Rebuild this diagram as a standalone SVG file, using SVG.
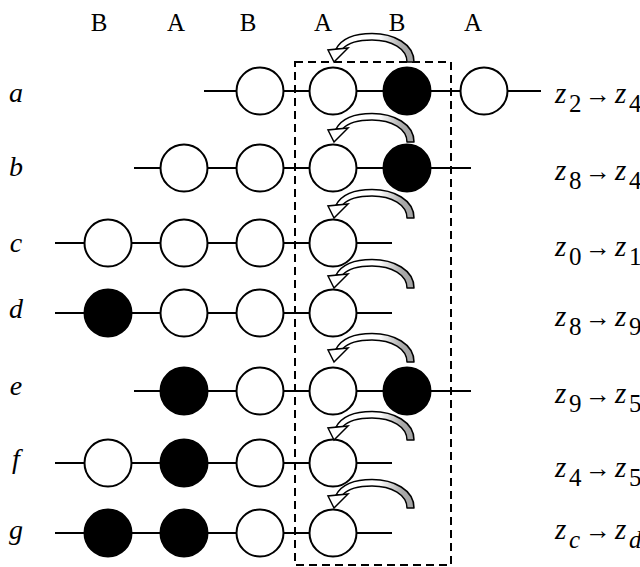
<svg xmlns="http://www.w3.org/2000/svg" width="640" height="567" viewBox="0 0 640 567">
  <defs>
    <style>
      text { font-family: "Liberation Serif", "Times New Roman", "DejaVu Serif", serif; fill: #000; }
      .hdr { font-size: 25px; text-anchor: middle; }
      .row { font-size: 28px; font-style: italic; text-anchor: middle; }
      .z { font-size: 29px; font-style: italic; }
      .sub { font-size: 25px; font-style: normal; }
      .subi { font-size: 25px; font-style: italic; }
      .arr { font-size: 26px; font-style: normal; }
      .chain { stroke: #000; stroke-width: 2; fill: none; }
      .w { fill: #fff; stroke: #000; stroke-width: 2; }
      .k { fill: #000; stroke: #000; stroke-width: 2; }
      .box { fill: none; stroke: #000; stroke-width: 2; stroke-dasharray: 8 5; }
      .band { fill: url(#bandFill); stroke: #000; stroke-width: 1.5; stroke-linejoin: round; }
      .head { fill: #fff; stroke: #000; stroke-width: 1.5; stroke-linejoin: miter; }
    </style>
    <linearGradient id="bandFill" x1="0" y1="0" x2="1" y2="0">
      <stop offset="0" stop-color="#fff"/>
      <stop offset="0.55" stop-color="#fff"/>
      <stop offset="0.85" stop-color="#aaa"/>
      <stop offset="1" stop-color="#a0a0a0"/>
    </linearGradient>
    <!-- curved hop arrow, tip at the origin -->
    <g id="hop">
      <path class="band" d="M 2,-13 C 8,-24 22,-28.5 38,-28.5 C 60,-28.5 80,-18 80,0 L 73,0 C 73,-13 58,-22 38,-22 C 25,-22 14,-19 9,-13.5 Z"/>
      <path class="head" d="M 0,0 L -6,-12 L 14,-14 Z"/>
    </g>
  </defs>

  <!-- column headers -->
  <g id="headers">
    <text class="hdr" x="99" y="31">B</text>
    <text class="hdr" x="176" y="31">A</text>
    <text class="hdr" x="248" y="31">B</text>
    <text class="hdr" x="323" y="31">A</text>
    <text class="hdr" x="397" y="31">B</text>
    <text class="hdr" x="473" y="31">A</text>
  </g>

  <!-- row labels -->
  <g id="row-labels">
    <text class="row" x="16" y="102">a</text>
    <text class="row" x="16" y="176">b</text>
    <text class="row" x="16" y="252">c</text>
    <text class="row" x="16" y="318">d</text>
    <text class="row" x="16" y="395">e</text>
    <text class="row" x="16" y="468">f</text>
    <text class="row" x="16" y="539">g</text>
  </g>

  <!-- chain backbones -->
  <g id="connectors">
    <line class="chain" x1="204" y1="91" x2="541" y2="91"/>
    <line class="chain" x1="134" y1="168" x2="471" y2="168"/>
    <line class="chain" x1="55" y1="243" x2="392" y2="243"/>
    <line class="chain" x1="55" y1="313" x2="392" y2="313"/>
    <line class="chain" x1="134" y1="391" x2="471" y2="391"/>
    <line class="chain" x1="55" y1="463" x2="392" y2="463"/>
    <line class="chain" x1="55" y1="533" x2="392" y2="533"/>
  </g>

  <!-- sites -->
  <g id="row-a">
    <circle id="a3" class="w" cx="260" cy="91" r="23.5"/>
    <circle id="a4" class="w" cx="333" cy="91" r="23.5"/>
    <circle id="a5" class="k" cx="407" cy="91" r="23.5"/>
    <circle id="a6" class="w" cx="484" cy="91" r="23.5"/>
  </g>
  <g id="row-b">
    <circle id="b2" class="w" cx="184" cy="168" r="23.5"/>
    <circle id="b3" class="w" cx="260" cy="168" r="23.5"/>
    <circle id="b4" class="w" cx="333" cy="168" r="23.5"/>
    <circle id="b5" class="k" cx="407" cy="168" r="23.5"/>
  </g>
  <g id="row-c">
    <circle id="c1" class="w" cx="108" cy="243" r="23.5"/>
    <circle id="c2" class="w" cx="184" cy="243" r="23.5"/>
    <circle id="c3" class="w" cx="260" cy="243" r="23.5"/>
    <circle id="c4" class="w" cx="333" cy="243" r="23.5"/>
  </g>
  <g id="row-d">
    <circle id="d1" class="k" cx="108" cy="313" r="23.5"/>
    <circle id="d2" class="w" cx="184" cy="313" r="23.5"/>
    <circle id="d3" class="w" cx="260" cy="313" r="23.5"/>
    <circle id="d4" class="w" cx="333" cy="313" r="23.5"/>
  </g>
  <g id="row-e">
    <circle id="e2" class="k" cx="184" cy="391" r="23.5"/>
    <circle id="e3" class="w" cx="260" cy="391" r="23.5"/>
    <circle id="e4" class="w" cx="333" cy="391" r="23.5"/>
    <circle id="e5" class="k" cx="407" cy="391" r="23.5"/>
  </g>
  <g id="row-f">
    <circle id="f1" class="w" cx="108" cy="463" r="23.5"/>
    <circle id="f2" class="k" cx="184" cy="463" r="23.5"/>
    <circle id="f3" class="w" cx="260" cy="463" r="23.5"/>
    <circle id="f4" class="w" cx="333" cy="463" r="23.5"/>
  </g>
  <g id="row-g">
    <circle id="g1" class="k" cx="108" cy="533" r="23.5"/>
    <circle id="g2" class="k" cx="184" cy="533" r="23.5"/>
    <circle id="g3" class="w" cx="260" cy="533" r="23.5"/>
    <circle id="g4" class="w" cx="333" cy="533" r="23.5"/>
  </g>

  <!-- active window -->
  <rect id="window" class="box" x="295" y="62" width="156" height="503"/>

  <!-- hop arrows -->
  <g id="hops">
    <use href="#hop" transform="translate(334,62)"/>
    <use href="#hop" transform="translate(334,142)"/>
    <use href="#hop" transform="translate(334,218)"/>
    <use href="#hop" transform="translate(334,288)"/>
    <use href="#hop" transform="translate(334,362)"/>
    <use href="#hop" transform="translate(334,440)"/>
    <use href="#hop" transform="translate(334,508)"/>
  </g>

  <!-- state transitions -->
  <g id="transitions">
    <g id="t-a">
      <text class="z" x="555" y="103">z</text><text class="sub" x="569" y="112">2</text>
      <text class="arr" x="585" y="103" textLength="26" lengthAdjust="spacingAndGlyphs">→</text>
      <text class="z" x="615" y="103">z</text><text class="sub" x="629" y="112">4</text>
    </g>
    <g id="t-b">
      <text class="z" x="555" y="180">z</text><text class="sub" x="569" y="189">8</text>
      <text class="arr" x="585" y="180" textLength="26" lengthAdjust="spacingAndGlyphs">→</text>
      <text class="z" x="615" y="180">z</text><text class="sub" x="629" y="189">4</text>
    </g>
    <g id="t-c">
      <text class="z" x="555" y="256">z</text><text class="sub" x="569" y="265">0</text>
      <text class="arr" x="585" y="256" textLength="26" lengthAdjust="spacingAndGlyphs">→</text>
      <text class="z" x="615" y="256">z</text><text class="sub" x="629" y="265">1</text>
    </g>
    <g id="t-d">
      <text class="z" x="555" y="326">z</text><text class="sub" x="569" y="335">8</text>
      <text class="arr" x="585" y="326" textLength="26" lengthAdjust="spacingAndGlyphs">→</text>
      <text class="z" x="615" y="326">z</text><text class="sub" x="629" y="335">9</text>
    </g>
    <g id="t-e">
      <text class="z" x="555" y="403">z</text><text class="sub" x="569" y="412">9</text>
      <text class="arr" x="585" y="403" textLength="26" lengthAdjust="spacingAndGlyphs">→</text>
      <text class="z" x="615" y="403">z</text><text class="sub" x="629" y="412">5</text>
    </g>
    <g id="t-f">
      <text class="z" x="555" y="477">z</text><text class="sub" x="569" y="486">4</text>
      <text class="arr" x="585" y="477" textLength="26" lengthAdjust="spacingAndGlyphs">→</text>
      <text class="z" x="615" y="477">z</text><text class="sub" x="629" y="486">5</text>
    </g>
    <g id="t-g">
      <text class="z" x="555" y="539">z</text><text class="subi" x="569" y="548">c</text>
      <text class="arr" x="585" y="539" textLength="26" lengthAdjust="spacingAndGlyphs">→</text>
      <text class="z" x="615" y="539">z</text><text class="subi" x="629" y="548">d</text>
    </g>
  </g>
</svg>
